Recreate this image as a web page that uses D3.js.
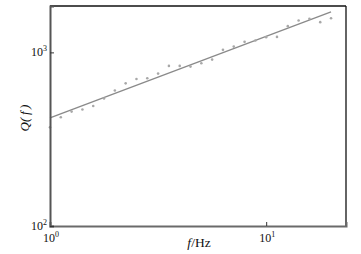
<!DOCTYPE html>
<html><head><meta charset="utf-8">
<script src="https://cdn.jsdelivr.net/npm/d3@7"></script>
<style>body{margin:0;background:#fff}svg{display:block}</style>
</head><body>
<script>
const freqExp = [0,1,2,3,4,5,6,7,8,9,10,11,12,13,14,15,16,17,18,19,20,21,22,23,24,25,26];
const qValues = [370,423,456,469,491,542,603,663,703,710,755,836,836,828,866,909,1034,1080,1150,1170,1224,1228,1416,1525,1560,1493,1574];
const fitF = [1, 19.95];
const fitQ = [420, 1713];
const xTicks = [1, 10];
const yTicks = [100, 1000];

const W = 361, H = 254;
const m = {left:50, right:15, top:6, bottom:28};
const svg = d3.select("body").append("svg").attr("width", W).attr("height", H);

const x = d3.scaleLog().domain([1, 23.4]).range([m.left, W - m.right]);
const y = d3.scaleLog().domain([100, 1850]).range([H - m.bottom, m.top]);

const pts = freqExp.map((k,i)=>({f: Math.pow(10, k*0.05), q: qValues[i]}));

svg.append("line").attr("x1",m.left).attr("x2",W-m.right).attr("y1",m.top).attr("y2",m.top)
  .attr("stroke","#111").attr("stroke-width",1.3);
svg.append("line").attr("x1",W-m.right).attr("x2",W-m.right).attr("y1",m.top).attr("y2",H-m.bottom)
  .attr("stroke","#111").attr("stroke-width",1.3);

svg.append("path").datum(fitF.map((f,i)=>[f,fitQ[i]]))
  .attr("d", d3.line().x(d=>x(d[0])).y(d=>y(d[1])))
  .attr("fill","none").attr("stroke","#8a8a8a").attr("stroke-width",1.3);

svg.selectAll("circle.p").data(pts).enter().append("circle")
  .attr("cx",d=>x(d.f)).attr("cy",d=>y(d.q)).attr("r",1.3).attr("fill","#a8a8a8");

const xAxis = d3.axisBottom(x).tickValues(xTicks).tickSize(-4).tickFormat("");
const yAxis = d3.axisLeft(y).tickValues(yTicks).tickSize(-4).tickFormat("");
const gx = svg.append("g").attr("transform",`translate(0,${H-m.bottom})`).call(xAxis);
const gy = svg.append("g").attr("transform",`translate(${m.left},0)`).call(yAxis);
gx.select(".domain").attr("stroke","#6a6a6a").attr("stroke-width",2);
gy.select(".domain").attr("stroke","#555").attr("stroke-width",2);
svg.selectAll(".tick line").attr("stroke","#333");

const font = "'Liberation Serif','Times New Roman',serif";
function supLabel(xp, yp, exp, anchor){
  const t = svg.append("text").attr("x",xp).attr("y",yp).attr("text-anchor",anchor)
    .attr("font-family",font).attr("font-size",12).attr("fill","#111");
  t.append("tspan").text("10");
  t.append("tspan").attr("dy",-5).attr("font-size",8).text(exp);
}
xTicks.forEach(v=>supLabel(x(v)+1, H-m.bottom+16, String(Math.round(Math.log10(v))), "middle"));
yTicks.forEach(v=>supLabel(m.left-3, y(v)+4, String(Math.round(Math.log10(v))), "end"));

const xt = svg.append("text").attr("x",199).attr("y",247).attr("text-anchor","middle")
  .attr("font-family",font).attr("font-size",13.5).attr("fill","#111");
xt.append("tspan").attr("font-style","italic").text("f");
xt.append("tspan").text("/Hz");

const yt = svg.append("text").attr("transform","translate(29,118) rotate(-90)").attr("text-anchor","middle")
  .attr("font-family",font).attr("font-size",13).attr("font-style","italic").attr("fill","#111");
yt.text("Q(\u2009f\u2009)");
</script>
</body></html>
